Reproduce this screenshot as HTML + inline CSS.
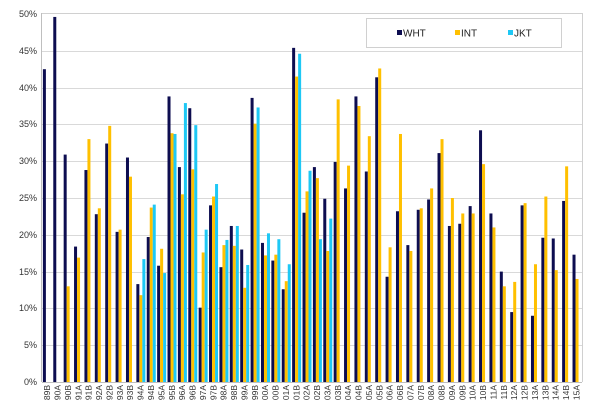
<!DOCTYPE html>
<html><head><meta charset="utf-8"><style>
body{margin:0;background:#fff;}
svg{display:block;font-family:"Liberation Sans",sans-serif;}
</style></head><body>
<svg width="600" height="418" viewBox="0 0 600 418">
<rect x="0" y="0" width="600" height="418" fill="#fff"/>
<g id="grid" stroke="#d9d9d9" stroke-width="1"></g>
<line x1="42" y1="13.5" x2="582" y2="13.5" stroke="#d0d0d0"/>
<line x1="582.5" y1="13" x2="582.5" y2="382" stroke="#d0d0d0"/>
<line x1="41.5" y1="13" x2="41.5" y2="382" stroke="#bfbfbf"/>
<g id="bars"></g>
<line x1="42" y1="382.5" x2="582" y2="382.5" stroke="#bfbfbf"/>
<g font-size="9" fill="#333" text-anchor="end">
<text x="37" y="17">50%</text><text x="37" y="54">45%</text><text x="37" y="91">40%</text>
<text x="37" y="127">35%</text><text x="37" y="164">30%</text><text x="37" y="201">25%</text>
<text x="37" y="238">20%</text><text x="37" y="275">15%</text><text x="37" y="311">10%</text>
<text x="37" y="348">5%</text><text x="37" y="385">0%</text>
</g>
<g font-size="8.5" fill="#333" text-anchor="end">
<text transform="translate(50.2,385) rotate(-90)">89B</text>
<text transform="translate(60.6,385) rotate(-90)">90A</text>
<text transform="translate(71.0,385) rotate(-90)">90B</text>
<text transform="translate(81.3,385) rotate(-90)">91A</text>
<text transform="translate(91.7,385) rotate(-90)">91B</text>
<text transform="translate(102.1,385) rotate(-90)">92A</text>
<text transform="translate(112.5,385) rotate(-90)">92B</text>
<text transform="translate(122.8,385) rotate(-90)">93A</text>
<text transform="translate(133.2,385) rotate(-90)">93B</text>
<text transform="translate(143.6,385) rotate(-90)">94A</text>
<text transform="translate(154.0,385) rotate(-90)">94B</text>
<text transform="translate(164.4,385) rotate(-90)">95A</text>
<text transform="translate(174.8,385) rotate(-90)">95B</text>
<text transform="translate(185.1,385) rotate(-90)">96A</text>
<text transform="translate(195.5,385) rotate(-90)">96B</text>
<text transform="translate(205.9,385) rotate(-90)">97A</text>
<text transform="translate(216.3,385) rotate(-90)">97B</text>
<text transform="translate(226.6,385) rotate(-90)">98A</text>
<text transform="translate(237.0,385) rotate(-90)">98B</text>
<text transform="translate(247.4,385) rotate(-90)">99A</text>
<text transform="translate(257.8,385) rotate(-90)">99B</text>
<text transform="translate(268.1,385) rotate(-90)">00A</text>
<text transform="translate(278.5,385) rotate(-90)">00B</text>
<text transform="translate(288.9,385) rotate(-90)">01A</text>
<text transform="translate(299.3,385) rotate(-90)">01B</text>
<text transform="translate(309.7,385) rotate(-90)">02A</text>
<text transform="translate(320.0,385) rotate(-90)">02B</text>
<text transform="translate(330.4,385) rotate(-90)">03A</text>
<text transform="translate(340.8,385) rotate(-90)">03B</text>
<text transform="translate(351.2,385) rotate(-90)">04A</text>
<text transform="translate(361.5,385) rotate(-90)">04B</text>
<text transform="translate(371.9,385) rotate(-90)">05A</text>
<text transform="translate(382.3,385) rotate(-90)">05B</text>
<text transform="translate(392.7,385) rotate(-90)">06A</text>
<text transform="translate(403.1,385) rotate(-90)">06B</text>
<text transform="translate(413.4,385) rotate(-90)">07A</text>
<text transform="translate(423.8,385) rotate(-90)">07B</text>
<text transform="translate(434.2,385) rotate(-90)">08A</text>
<text transform="translate(444.6,385) rotate(-90)">08B</text>
<text transform="translate(454.9,385) rotate(-90)">09A</text>
<text transform="translate(465.3,385) rotate(-90)">09B</text>
<text transform="translate(475.7,385) rotate(-90)">10A</text>
<text transform="translate(486.1,385) rotate(-90)">10B</text>
<text transform="translate(496.4,385) rotate(-90)">11A</text>
<text transform="translate(506.8,385) rotate(-90)">11B</text>
<text transform="translate(517.2,385) rotate(-90)">12A</text>
<text transform="translate(527.6,385) rotate(-90)">12B</text>
<text transform="translate(538.0,385) rotate(-90)">13A</text>
<text transform="translate(548.3,385) rotate(-90)">13B</text>
<text transform="translate(558.7,385) rotate(-90)">14A</text>
<text transform="translate(569.1,385) rotate(-90)">14B</text>
<text transform="translate(579.5,385) rotate(-90)">15A</text>
</g>
<rect x="366.5" y="18.5" width="195" height="29" fill="#fff" stroke="#d0d0d0"/>
<rect x="397" y="30" width="5" height="5" fill="#0d0d50"/>
<text x="403" y="36.5" font-size="10" fill="#222">WHT</text>
<rect x="455" y="30" width="5" height="5" fill="#ffc000"/>
<text x="461" y="36.5" font-size="10" fill="#222">INT</text>
<rect x="508" y="30" width="5" height="5" fill="#1ec8f5"/>
<text x="514" y="36.5" font-size="10" fill="#222">JKT</text>
</svg>
<script>
var d=[[42.5],[49.6],[30.9,13.0],[18.4,16.9],[28.8,33.0],[22.8,23.6],[32.4,34.8],[20.4,20.7],[30.5,27.9],
[13.3,11.8,16.7],[19.7,23.7,24.1],[15.8,18.1,14.8],[38.8,33.8,33.7],[29.2,25.5,37.9],[37.2,28.9,34.9],
[10.1,17.6,20.7],[24.0,25.2,26.9],[15.6,18.6,19.3],[21.2,18.5,21.2],[18.0,12.8,15.9],[38.6,35.1,37.3],
[18.9,17.2,20.2],[16.5,17.3,19.4],[12.6,13.7,16.0],[45.4,41.5,44.6],[23.0,25.9,28.7],[29.2,27.7,19.4],
[24.9,17.8,22.2],[29.9,38.4],[26.3,29.4],[38.8,37.5],[28.6,33.4],[41.4,42.6],[14.3,18.3],[23.2,33.7],
[18.6,17.8],[23.4,23.6],[24.8,26.3],[31.1,33.0],[21.2,25.0],[21.5,22.9],[23.9,22.9],[34.2,29.6],
[22.9,21.0],[15.0,13.0],[9.5,13.6],[24.0,24.3],[9.0,16.0],[19.6,25.2],[19.5,15.2],[24.6,29.3],[17.3,14.0]];
var col=["#0d0d50","#ffc000","#1ec8f5"];
var ns="http://www.w3.org/2000/svg",g=document.getElementById("bars"),gr=document.getElementById("grid");
for(var k=1;k<10;k++){var y=Math.round(382-k*36.8)+.5;var l=document.createElementNS(ns,"line");
l.setAttribute("x1",42);l.setAttribute("x2",582);l.setAttribute("y1",y);l.setAttribute("y2",y);gr.appendChild(l);}
var w=540/52;
for(var i=0;i<d.length;i++){for(var s=0;s<d[i].length;s++){var h=d[i][s]*7.36;
var r=document.createElementNS(ns,"rect");r.setAttribute("x",(42+i*w+0.9+s*3).toFixed(2));
r.setAttribute("y",(382-h).toFixed(2));r.setAttribute("width",3);r.setAttribute("height",h.toFixed(2));
r.setAttribute("fill",col[s]);g.appendChild(r);}}
</script>
</body></html>
